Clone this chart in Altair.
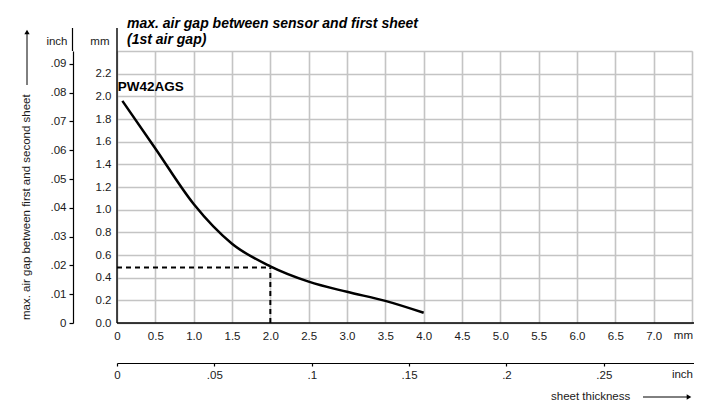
import altair as alt
import pandas as pd

# ---- data ----
thickness_mm = [0.07, 0.5, 1.0, 1.5, 2.0, 2.5, 3.0, 3.5, 4.0]
gap_mm = [1.96, 1.54, 1.05, 0.70, 0.50, 0.365, 0.275, 0.195, 0.09]

mm_x_ticks = [0.0, 0.5, 1.0, 1.5, 2.0, 2.5, 3.0, 3.5, 4.0, 4.5, 5.0, 5.5, 6.0, 6.5, 7.0, 7.5]
mm_y_ticks = [0.0, 0.2, 0.4, 0.6, 0.8, 1.0, 1.2, 1.4, 1.6, 1.8, 2.0, 2.2, 2.4]
inch_x_ticks = [0.0, 0.05, 0.1, 0.15, 0.2, 0.25]
inch_y_ticks = [0.0, 0.01, 0.02, 0.03, 0.04, 0.05, 0.06, 0.07, 0.08, 0.09]

ref_thickness = 2.0
ref_gap = 0.49
series_label = "PW42AGS"
label_pos = [0.01, 2.08]
title_lines = ["max. air gap between sensor and first sheet", "(1st air gap)"]
y_title = "max. air gap between first and second sheet"
x_title = "sheet thickness"
unit_mm, unit_inch = "mm", "inch"

MM_PER_INCH = 25.4
X_MAX, Y_MAX = 7.5, 2.4
W, H = 575, 272
X_EXT = X_MAX * (W + 20) / W      # axis lines run past the grid on the right
Y_EXT = Y_MAX * (H + 23) / H      # and above it on the left
INCH_OFF_X, INCH_OFF_Y = 40, 44
RIGHT_EDGE = W + 1                # last visible pixel column of the view

FONT = "Liberation Sans"
LBL = 11.5
GRID = "#c4c4c4"
INK = "#1a1a1a"

x_mm = alt.Scale(domain=[0, X_MAX], nice=False, zero=False)
y_mm = alt.Scale(domain=[0, Y_MAX], nice=False, zero=False)

mm_x_axis = alt.Axis(
    values=mm_x_ticks, grid=True, gridColor=GRID, gridWidth=1.6, domain=False, ticks=False, tickSize=0,
    labelExpr="datum.value > 7.4 ? '' : (datum.value == 0 ? '0' : format(datum.value, '.1f'))",
    labelFont=FONT, labelFontSize=LBL, labelColor=INK, labelPadding=7, labelFlush=False, labelOverlap=False,
    title=None,
)
mm_y_axis = alt.Axis(
    values=mm_y_ticks, grid=True, gridColor=GRID, gridWidth=1.6, domain=False, ticks=False, tickSize=0,
    labelExpr="datum.value > 2.3 ? '' : format(datum.value, '.1f')",
    labelFont=FONT, labelFontSize=LBL, labelColor=INK, labelPadding=6, labelFlush=False, labelOverlap=False,
    title=unit_mm, titleAngle=0, titleAlign="right", titleBaseline="middle", titleX=-8, titleY=-10,
    titleFont=FONT, titleFontSize=LBL, titleFontWeight="normal", titleColor=INK,
)
inch_x_axis = alt.Axis(
    orient="bottom", offset=INCH_OFF_X, values=[v * MM_PER_INCH for v in inch_x_ticks], grid=False,
    domainColor="black", domainWidth=1.2, tickColor="black", tickSize=3, tickWidth=1.2,
    labelExpr="datum.value == 0 ? '0' : replace(format(datum.value / 25.4, '.2~f'), '0.', '.')",
    labelFont=FONT, labelFontSize=LBL, labelColor=INK, labelPadding=3, labelFlush=False, labelOverlap=False,
    title=None,
)
inch_y_axis = alt.Axis(
    orient="left", offset=INCH_OFF_Y, values=[v * MM_PER_INCH for v in inch_y_ticks], grid=False,
    domainColor="black", domainWidth=1.2, tickColor="black", tickSize=4, tickWidth=1.2,
    labelExpr="datum.value == 0 ? '0' : replace(format(datum.value / 25.4, '.2~f'), '0.', '.')",
    labelFont=FONT, labelFontSize=LBL, labelColor=INK, labelPadding=3, labelFlush=False, labelOverlap=False,
    title=unit_inch, titleAngle=0, titleAlign="right", titleBaseline="middle", titleX=-6, titleY=-10,
    titleFont=FONT, titleFontSize=LBL, titleFontWeight="normal", titleColor=INK,
)

curve_df = pd.DataFrame({"t": thickness_mm, "g": gap_mm})

curve = alt.Chart(curve_df).mark_line(color="black", strokeWidth=2.5, interpolate="monotone").encode(
    x=alt.X("t:Q", scale=x_mm, axis=mm_x_axis),
    y=alt.Y("g:Q", scale=y_mm, axis=mm_y_axis),
)

# carrier for the two inch axes (same scales, values converted to mm)
inch_axes = alt.Chart(pd.DataFrame({"t": [0.0], "g": [0.0]})).mark_point(opacity=0).encode(
    x=alt.X("t:Q", axis=inch_x_axis),
    y=alt.Y("g:Q", axis=inch_y_axis),
)

frame_df = pd.DataFrame({"t": [0.0, 0.0], "t2": [0.0, X_EXT], "g": [0.0, 0.0], "g2": [Y_EXT, 0.0]})
frame = alt.Chart(frame_df).mark_rule(color="black", strokeWidth=1.4).encode(
    x=alt.X("t:Q", axis=None), x2="t2:Q", y=alt.Y("g:Q", axis=None), y2="g2:Q"
)

inch_ext_y = alt.Chart(pd.DataFrame({"g": [Y_MAX], "g2": [Y_EXT]})).mark_rule(color="black", strokeWidth=1.2).encode(
    x=alt.value(-INCH_OFF_Y - 0.5), y=alt.Y("g:Q", axis=None), y2="g2:Q"
)
inch_ext_x = alt.Chart(pd.DataFrame({"t": [X_MAX], "t2": [X_EXT]})).mark_rule(color="black", strokeWidth=1.2).encode(
    x=alt.X("t:Q", axis=None), x2="t2:Q", y=alt.value(H + INCH_OFF_X + 0.5)
)

# unit labels at the right end of the two bottom scales
units_df = pd.DataFrame({"txt": [unit_mm, unit_inch], "dy": [H + 7, H + INCH_OFF_X + 6]})
units = alt.Chart(units_df).mark_text(
    align="right", baseline="top", font=FONT, fontSize=LBL, color=INK
).encode(x=alt.value(RIGHT_EDGE), y=alt.Y("dy:Q", scale=None, axis=None), text="txt:N")

dash_df = pd.DataFrame({
    "t": [0.0, ref_thickness],
    "t2": [ref_thickness, ref_thickness],
    "g": [ref_gap, 0.0],
    "g2": [ref_gap, ref_gap],
})
dashes = alt.Chart(dash_df).mark_rule(color="black", strokeWidth=2, strokeDash=[5, 4]).encode(
    x=alt.X("t:Q", axis=None), x2="t2:Q", y=alt.Y("g:Q", axis=None), y2="g2:Q"
)

label_df = pd.DataFrame({"t": [label_pos[0]], "g": [label_pos[1]], "txt": [series_label]})
label = alt.Chart(label_df).mark_text(
    align="left", baseline="middle", font=FONT, fontSize=13.5, fontWeight="bold", color="black"
).encode(x=alt.X("t:Q", axis=None), y=alt.Y("g:Q", axis=None), text="txt:N")

ytitle = alt.Chart(pd.DataFrame({"txt": [y_title]})).mark_text(
    angle=270, align="left", baseline="middle", font=FONT, fontSize=LBL, color=INK
).encode(x=alt.value(-90), y=alt.value(269), text="txt:N")
yarrow = alt.Chart(pd.DataFrame({"a": [0]})).mark_rule(color="black", strokeWidth=1).encode(
    x=alt.value(-90), y=alt.value(34), y2=alt.value(-18)
)
yhead = alt.Chart(pd.DataFrame({"a": [0]})).mark_point(
    shape="triangle-up", filled=True, color="black", size=28, opacity=1
).encode(x=alt.value(-90), y=alt.value(-19))

XT_Y = H + 74
xtitle = alt.Chart(pd.DataFrame({"txt": [x_title]})).mark_text(
    align="left", baseline="middle", font=FONT, fontSize=LBL, color=INK
).encode(x=alt.value(434), y=alt.value(XT_Y), text="txt:N")
xarrow = alt.Chart(pd.DataFrame({"a": [0]})).mark_rule(color="black", strokeWidth=1).encode(
    x=alt.value(526), x2=alt.value(570), y=alt.value(XT_Y)
)
xhead = alt.Chart(pd.DataFrame({"a": [0]})).mark_point(
    shape="triangle-right", filled=True, color="black", size=28, opacity=1
).encode(x=alt.value(572), y=alt.value(XT_Y))

chart = alt.layer(
    curve, inch_axes, frame, inch_ext_y, inch_ext_x, units, dashes, label,
    ytitle, yarrow, yhead, xtitle, xarrow, xhead,
).resolve_axis(
    x="independent", y="independent"
).properties(
    width=W, height=H,
    title=alt.TitleParams(
        text=title_lines, anchor="start", frame="group", font=FONT, fontSize=14,
        fontWeight="bold", fontStyle="italic", color="black", dx=10, dy=24, lineHeight=16,
    ),
    autosize=alt.AutoSizeParams(type="none"),
    padding={"left": 109, "top": 43, "right": 2, "bottom": 80},
).configure_view(stroke=None).configure_axis(labelOverlap=False, labelFlush=False).configure(background="white")

chart.save("out.html", embed_options={"renderer": "svg", "actions": False})
